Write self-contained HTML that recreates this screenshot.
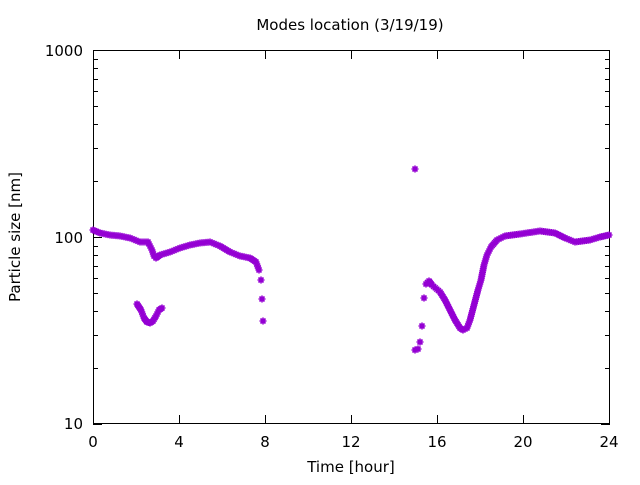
<!DOCTYPE html>
<html><head><style>
body{margin:0;background:#fff}
svg text{font-family:"DejaVu Sans","Liberation Sans",sans-serif;font-size:15px;fill:#000}
</style></head><body>
<svg id="s" width="640" height="480" xmlns="http://www.w3.org/2000/svg">
<rect x="93.5" y="50.5" width="516" height="373" fill="none" stroke="#000"/>
<g id="ticks" stroke="#000"></g>
<text x="350" y="30" text-anchor="middle">Modes location (3/19/19)</text>
<text x="83" y="429" text-anchor="end">10</text>
<text x="83" y="243" text-anchor="end">100</text>
<text x="83" y="56" text-anchor="end">1000</text>
<g text-anchor="middle">
<text x="93" y="447">0</text><text x="179" y="447">4</text><text x="265" y="447">8</text>
<text x="351" y="447">12</text><text x="437" y="447">16</text><text x="523" y="447">20</text><text x="609" y="447">24</text>
</g>
<text x="351" y="472" text-anchor="middle">Time [hour]</text>
<text transform="translate(20,237) rotate(-90)" text-anchor="middle">Particle size [nm]</text>
<g id="pts" stroke="#9400d3" stroke-width="1.6" fill="none"></g>
</svg>
<script>
var t=document.getElementById('ticks'),h='';
for(var i=0;i<=6;i++){var x=93.5+i*86;h+='<line x1="'+x+'" y1="424" x2="'+x+'" y2="415"/><line x1="'+x+'" y1="50" x2="'+x+'" y2="59"/>';}
for(var d=0;d<2;d++)for(var m=1;m<=10;m++){if(m==10&&d==0)continue;var y=424-(d+Math.log10(m))*187;y=Math.round(y)+0.5;var L=(m==1||m==10)?9:5;
h+='<line x1="93" y1="'+y+'" x2="'+(93+L)+'" y2="'+y+'"/><line x1="610" y1="'+y+'" x2="'+(610-L)+'" y2="'+y+'"/>';}
t.innerHTML=h;
var segs=[
[[93,230],[100,233],[110,235],[120,236],[130,238],[140,242],[148,242],[152,250],[154,256],[156,258],[160,255],[170,252],[180,248],[190,245],[200,243],[210,242],[220,246],[230,252],[240,256],[250,258],[256,262],[259,270]],
[[137,304],[141,310],[144,318],[147,322],[150,323],[153,321],[156,316],[159,310],[162,308]],
[[426,284],[429,281],[432,285],[440,292],[445,300],[450,310],[455,320],[460,328],[463,330],[467,328],[470,320],[474,305],[478,290],[481,280],[484,265],[487,255],[491,247],[497,240],[505,236],[520,234],[540,231],[555,233],[565,238],[575,242],[590,240],[600,237],[609,235]]];
var P=[[261,280],[262,299],[263,321],[415,350],[418,349],[420,342],[422,326],[424,298],[415,169]];
segs.forEach(function(s){for(var k=0;k<s.length-1;k++){var a=s[k],b=s[k+1];var n=Math.max(1,Math.round(Math.hypot(b[0]-a[0],b[1]-a[1])/2));for(var j=0;j<n;j++){P.push([a[0]+(b[0]-a[0])*j/n,a[1]+(b[1]-a[1])*j/n]);}}P.push(s[s.length-1]);});
var g='';P.forEach(function(p){var x=p[0],y=p[1];g+='M'+(x-3.5)+' '+y+'h7M'+x+' '+(y-3.5)+'v7M'+(x-2.5)+' '+(y-2.5)+'l5 5M'+(x-2.5)+' '+(y+2.5)+'l5 -5';});
document.getElementById('pts').innerHTML='<path d="'+g+'"/>';
</script>
</body></html>
